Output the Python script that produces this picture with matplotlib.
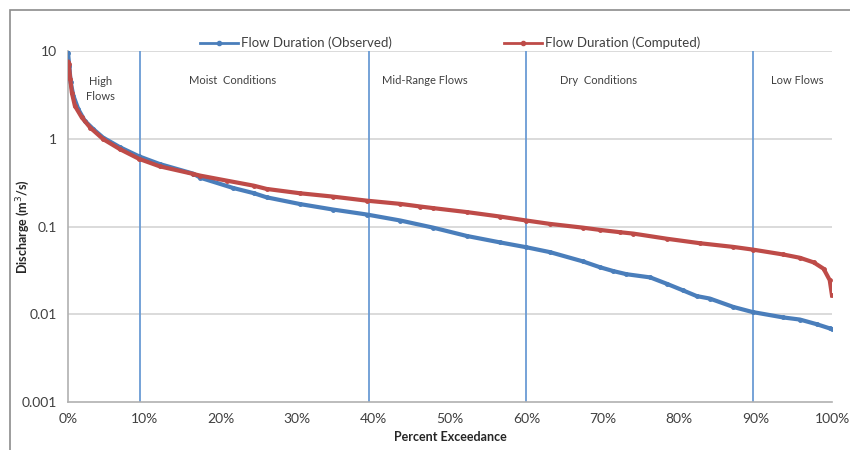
import matplotlib
matplotlib.use("Agg")
import matplotlib.pyplot as plt
from matplotlib.patches import Rectangle
from matplotlib.ticker import FixedLocator, FixedFormatter

plt.rcParams['font.family'] = ['Lato', 'DejaVu Sans']

# flow duration curves (percent exceedance vs discharge, m3/s)
obs_pct = [0.0, 0.17, 0.35, 0.7, 1.35, 2.2, 3.3, 4.6, 6.8, 9.3, 12.0, 16.4, 17.3,
           21.6, 24.3, 26.0, 30.4, 34.7, 39.1, 43.5, 47.8, 52.2, 56.5, 60.0, 63.1,
           67.4, 69.6, 71.4, 73.1, 76.2, 78.4, 80.5, 82.3, 84.0, 87.1, 89.6, 93.6,
           95.8, 98.0, 99.7, 100.0]
obs_q = [9.6, 6.7, 4.4, 3.1, 2.17, 1.6, 1.29, 1.03, 0.80, 0.63, 0.515, 0.40, 0.36,
         0.275, 0.24, 0.215, 0.18, 0.156, 0.137, 0.117, 0.097, 0.078, 0.066, 0.058, 0.051,
         0.040, 0.0344, 0.031, 0.0286, 0.0263, 0.0222, 0.0187, 0.0161, 0.0151, 0.0121, 0.0106, 0.0092,
         0.0087, 0.0077, 0.0069, 0.0068]

comp_pct = [0.0, 0.1, 0.3, 0.5, 0.9, 1.8, 2.9, 4.6, 6.8, 9.3, 12.0, 16.4, 17.3,
            20.8, 24.3, 26.0, 30.4, 34.7, 39.1, 43.5, 46.1, 47.8, 52.2, 56.5, 60.0,
            63.1, 67.4, 69.6, 72.3, 74.0, 78.4, 82.7, 87.1, 89.6, 93.6, 95.8, 97.6,
            98.9, 99.7, 100.0]
comp_q = [7.5, 7.1, 4.76, 3.36, 2.37, 1.75, 1.34, 0.99, 0.76, 0.59, 0.485, 0.397, 0.38,
          0.333, 0.292, 0.268, 0.239, 0.219, 0.197, 0.181, 0.169, 0.162, 0.146, 0.130, 0.117,
          0.107, 0.097, 0.0915, 0.086, 0.083, 0.0725, 0.0645, 0.0585, 0.0546, 0.048, 0.044, 0.039,
          0.033, 0.0245, 0.0164]

# flow regime zones
zone_breaks = [9.4, 39.4, 60.0, 89.6]
zone_labels = ['High\nFlows', 'Moist  Conditions', 'Mid-Range Flows', 'Dry  Conditions', 'Low Flows']
zone_label_x = [4.3, 21.6, 46.7, 69.4, 95.4]

x_ticks = list(range(0, 101, 10))
y_ticks = [0.001, 0.01, 0.1, 1, 10]
y_tick_labels = ['0.001', '0.01', '0.1', '1', '10']

blue = '#4a7ebb'
red = '#be4b48'
line_blue = '#6a9bd4'

fig = plt.figure(figsize=(8.5, 4.5), dpi=100)
ax = fig.add_axes([68 / 850, 1 - 402 / 450, (832 - 68) / 850, 351 / 450])

# chart area frame
fig.patches.append(Rectangle((10 / 850, -0.1), 1.0, 1 - 10 / 450 + 0.1,
                             transform=fig.transFigure, fill=False,
                             edgecolor='#8c8c8c', linewidth=1.2))

ax.set_yscale('log')
ax.set_xlim(0, 100)
ax.set_ylim(0.001, 10)

for y in y_ticks[1:]:
    ax.axhline(y, color='#d4d4d4', linewidth=1.2, zorder=1)

for xb in zone_breaks:
    ax.axvline(xb, color=line_blue, linewidth=1.3, zorder=2)

ax.plot(obs_pct, obs_q, color=blue, linewidth=3, marker='o', markersize=2.5,
        label='Flow Duration (Observed)', zorder=3, solid_joinstyle='round')
ax.plot(comp_pct, comp_q, color=red, linewidth=3, marker='o', markersize=2.5,
        label='Flow Duration (Computed)', zorder=4, solid_joinstyle='round')

for lx, lab in zip(zone_label_x, zone_labels):
    ax.text(lx, 0.892 if '\n' in lab else 0.917, lab, transform=ax.get_xaxis_transform(),
            ha='center', va='center', fontsize=8, color='#404040', linespacing=1.5)

ax.xaxis.set_major_locator(FixedLocator(x_ticks))
ax.xaxis.set_major_formatter(FixedFormatter([f'{t}%' for t in x_ticks]))
ax.yaxis.set_major_locator(FixedLocator(y_ticks))
ax.yaxis.set_major_formatter(FixedFormatter(y_tick_labels))
ax.yaxis.set_minor_locator(FixedLocator([]))
ax.tick_params(axis='both', length=0, labelsize=10, colors='#404040', pad=8)

for side in ['top', 'right']:
    ax.spines[side].set_visible(False)
for side in ['left', 'bottom']:
    ax.spines[side].set_color('#b0b0b0')
    ax.spines[side].set_linewidth(1.2)

ax.set_xlabel('Percent Exceedance', fontsize=9, fontweight='bold', color='#262626', labelpad=4)
ax.set_ylabel('Discharge (m$^3$/s)', fontsize=9, fontweight='bold', color='#262626')
ax.yaxis.set_label_coords(-0.047, 0.5)

leg = ax.legend(loc='center', bbox_to_anchor=(0.5, 1.023), ncol=2, frameon=False,
                fontsize=9.5, columnspacing=8.5, handlelength=2.9, handletextpad=0.2,
                borderaxespad=0)
for h in leg.get_lines():
    h.set_linewidth(2)
    h.set_markersize(3)
for t in leg.get_texts():
    t.set_color('#404040')

fig.savefig('out.png', dpi=100)
